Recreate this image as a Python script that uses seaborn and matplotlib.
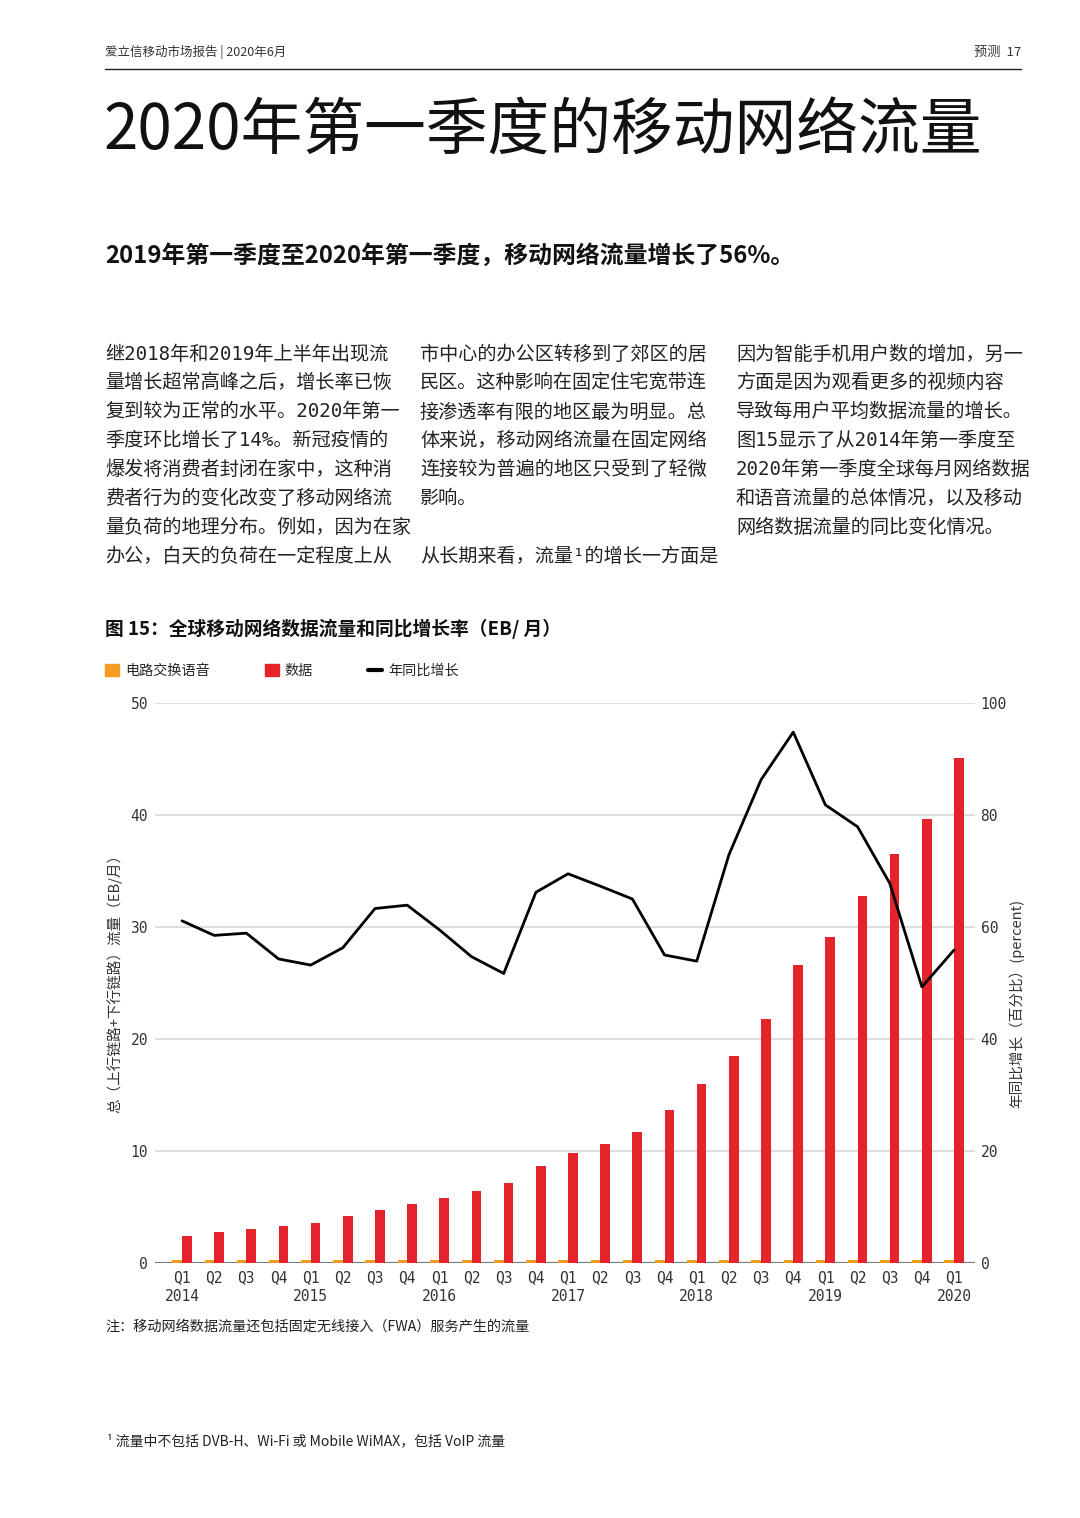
import numpy as np
import pandas as pd
import matplotlib
matplotlib.use("Agg")
import matplotlib.pyplot as plt
from matplotlib.patches import Patch
from matplotlib.lines import Line2D
import seaborn as sns

# data (EB/month and percent)
quarters = ["Q1", "Q2", "Q3", "Q4"] * 6 + ["Q1"]
years = ["2014", "2015", "2016", "2017", "2018", "2019", "2020"]
data_traffic = [2.4, 2.8, 3.0, 3.3, 3.6, 4.2, 4.7, 5.3, 5.8, 6.4, 7.1, 8.7,
                9.8, 10.6, 11.7, 13.7, 16.0, 18.5, 21.8, 26.6, 29.1, 32.8,
                36.5, 39.6, 45.1]
voice_traffic = [0.3, 0.3, 0.3, 0.3, 0.3, 0.3, 0.3, 0.3, 0.3, 0.3, 0.3, 0.3,
                 0.3, 0.3, 0.3, 0.3, 0.3, 0.3, 0.3, 0.3, 0.3, 0.3, 0.3, 0.3, 0.3]
yoy_growth = [61.1, 58.5, 58.9, 54.3, 53.2, 56.3, 63.3, 63.9, 59.5, 54.7,
              51.7, 66.2, 69.5, 67.3, 65.0, 55.0, 53.9, 72.9, 86.3, 94.8,
              81.8, 77.9, 67.8, 49.3, 55.9]

left_ticks = [0, 10, 20, 30, 40, 50]
right_ticks = [0, 20, 40, 60, 80, 100]

voice_name = "电路交换语音"
data_name = "数据"
growth_name = "年同比增长"

col1 = ["继2018年和2019年上半年出现流", "量增长超常高峰之后，增长率已恢",
        "复到较为正常的水平。2020年第一", "季度环比增长了14%。新冠疫情的",
        "爆发将消费者封闭在家中，这种消", "费者行为的变化改变了移动网络流",
        "量负荷的地理分布。例如，因为在家", "办公，白天的负荷在一定程度上从"]
col2 = ["市中心的办公区转移到了郊区的居", "民区。这种影响在固定住宅宽带连",
        "接渗透率有限的地区最为明显。总", "体来说，移动网络流量在固定网络",
        "连接较为普遍的地区只受到了轻微", "影响。", "", "从长期来看，流量¹的增长一方面是"]
col3 = ["因为智能手机用户数的增加，另一", "方面是因为观看更多的视频内容",
        "导致每用户平均数据流量的增长。", "图15显示了从2014年第一季度至",
        "2020年第一季度全球每月网络数据", "和语音流量的总体情况，以及移动",
        "网络数据流量的同比变化情况。"]

ORANGE = "#F39C1F"
RED = "#E4232A"

W, H = 1080, 1518

sns.set_theme(style="white")
plt.rcParams["font.family"] = ["DejaVu Sans Mono", "Noto Sans CJK SC", "DejaVu Sans"]
CJK = ["Noto Sans CJK SC", "DejaVu Sans"]
MONO = ["DejaVu Sans Mono", "Noto Sans CJK SC", "DejaVu Sans"]

fig = plt.figure(figsize=(W / 100, H / 100), dpi=100)


def fx(x):
    return x / W


def fy(y):
    return 1 - y / H


# page header
fig.text(fx(105), fy(52), "爱立信移动市场报告 | 2020年6月", fontsize=9,
         family=CJK, color="#333333", va="center", ha="left")
fig.text(fx(1021), fy(52), "预测  17", fontsize=9.5, family=CJK,
         color="#333333", va="center", ha="right")
fig.add_artist(Line2D([fx(105), fx(1021)], [fy(69), fy(69)], color="#222222", lw=1))

fig.text(fx(103), fy(132), "2020年第一季度的移动网络流量", fontsize=44.5,
         family=CJK, weight="light", color="#111111", va="center", ha="left")
fig.text(fx(105), fy(256), "2019年第一季度至2020年第一季度，移动网络流量增长了56%。",
         fontsize=17.2, family=CJK, weight="bold", color="#111111",
         va="center", ha="left")

for x0, lines in [(105, col1), (420, col2), (736, col3)]:
    for i, line in enumerate(lines):
        fig.text(fx(x0), fy(354 + i * 28.9), line, fontsize=13.8, family=MONO,
                 color="#222222", va="center", ha="left")

fig.text(fx(105), fy(629), "图 15：全球移动网络数据流量和同比增长率（EB/ 月）",
         fontsize=13.5, family=CJK, weight="bold", color="#111111",
         va="center", ha="left")

# chart
df = pd.DataFrame({
    "idx": list(range(len(data_traffic))) * 2,
    "type": [voice_name] * len(voice_traffic) + [data_name] * len(data_traffic),
    "value": voice_traffic + data_traffic,
})

ax = fig.add_axes([fx(155), fy(1263), fx(975) - fx(155), fy(703) - fy(1263)])
sns.barplot(data=df, x="idx", y="value", hue="type",
            hue_order=[voice_name, data_name],
            palette={voice_name: ORANGE, data_name: RED},
            width=0.6, gap=0, saturation=1, linewidth=0,
            errorbar=None, legend=False, ax=ax, zorder=3)

ax.set_ylim(0, 50)
ax.set_yticks(left_ticks)
ax.set_xlim(-0.84, len(data_traffic) - 0.35)
ax.yaxis.grid(True, color="#D8D8D8", lw=1.2, zorder=0)
ax.set_axisbelow(True)
for s in ax.spines.values():
    s.set_visible(False)
ax.axhline(0, color="#7A7A7A", lw=1.6, zorder=2)

labels = []
yi = 0
for i, q in enumerate(quarters):
    if q == "Q1":
        labels.append(q + "\n" + years[yi])
        yi += 1
    else:
        labels.append(q)
ax.set_xticks(range(len(quarters)))
ax.set_xticklabels(labels, family=MONO, fontsize=10.5, color="#333333",
                   linespacing=1.3)
ax.tick_params(axis="x", length=0, pad=5)
ax.tick_params(axis="y", length=0, pad=5, labelsize=10.5, labelcolor="#333333")
ax.set_xlabel("")
ax.set_ylabel("总（上行链路+下行链路）流量（EB/月）", family=CJK, fontsize=10.5,
              color="#333333")
ax.yaxis.set_label_coords(-0.04, 0.505)

ax2 = ax.twinx()
sns.lineplot(x=list(range(len(yoy_growth))), y=yoy_growth, color="black",
             lw=2, ax=ax2, zorder=5)
ax2.set_ylim(0, 100)
ax2.set_yticks(right_ticks)
ax2.set_xlim(ax.get_xlim())
for s in ax2.spines.values():
    s.set_visible(False)
ax2.tick_params(axis="y", length=0, pad=4, labelsize=10.5, labelcolor="#333333")
ax2.set_ylabel("年同比增长（百分比）(percent)", family=CJK, fontsize=10.5,
               color="#333333")
ax2.yaxis.set_label_coords(1.041, 0.464)
for t in ax.get_yticklabels() + ax2.get_yticklabels():
    t.set_family(MONO)

handles = [Patch(color=ORANGE, label=voice_name),
           Patch(color=RED, label=data_name),
           Line2D([0], [0], color="black", lw=3, label=growth_name)]
fig.legend(handles=handles, loc="center left", bbox_to_anchor=(fx(105), fy(671)),
           ncol=3, frameon=False, borderpad=0, borderaxespad=0,
           handlelength=1.0, handleheight=0.9, handletextpad=0.4,
           columnspacing=3.9, prop={"family": CJK, "size": 10.2})

fig.text(fx(105), fy(1327), "注：移动网络数据流量还包括固定无线接入（FWA）服务产生的流量",
         fontsize=10.2, family=CJK, color="#222222", va="center", ha="left")
fig.text(fx(107), fy(1441), "¹ 流量中不包括 DVB-H、Wi-Fi 或 Mobile WiMAX，包括 VoIP 流量",
         fontsize=10, family=CJK, color="#222222", va="center", ha="left")

fig.savefig("out.png", dpi=100)
